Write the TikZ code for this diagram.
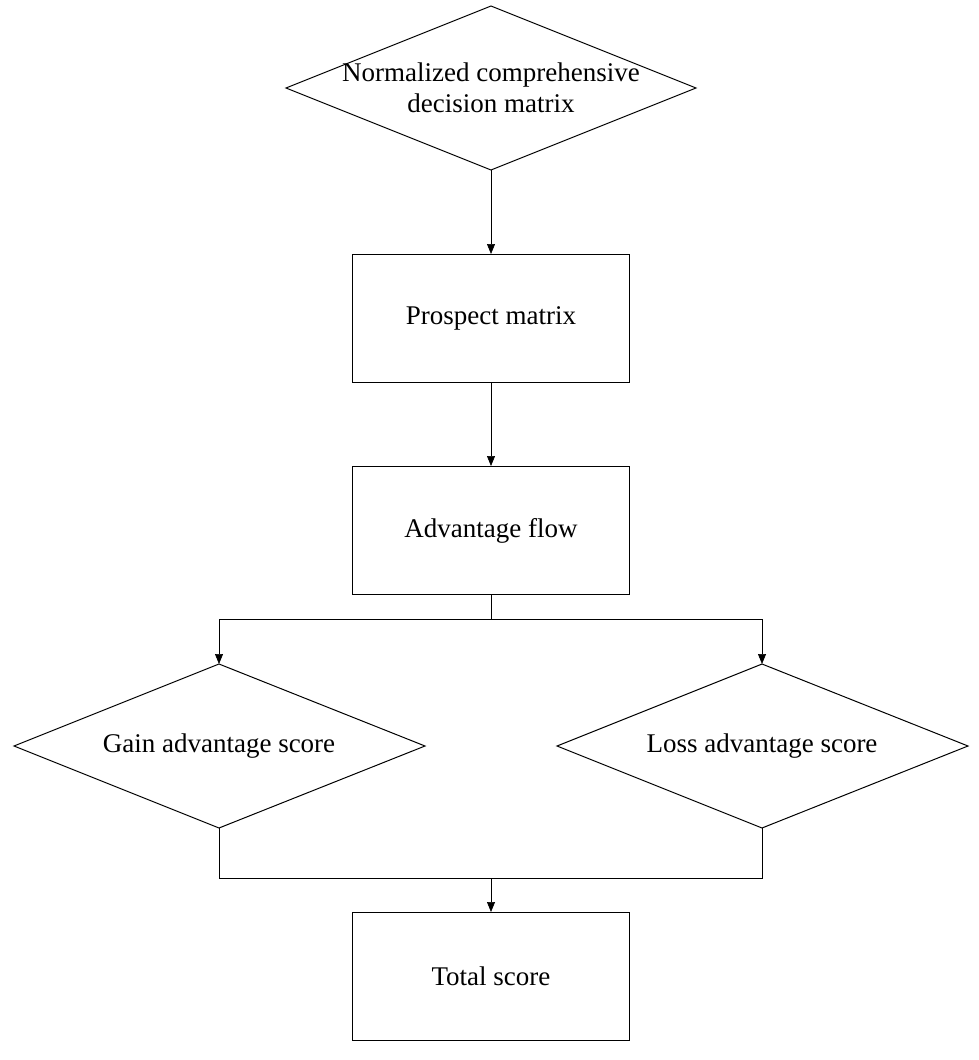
\documentclass[tikz,border=0pt]{standalone}
\usepackage{fontspec}
\setmainfont{Liberation Serif}
\usetikzlibrary{arrows.meta}
\begin{document}
\begin{tikzpicture}[x=1pt,y=-1pt,
  box/.style={draw,line width=1pt,minimum width=277pt,minimum height=128pt,anchor=north west,inner sep=0},
  lbl/.style={font=\fontsize{27}{31}\selectfont,align=center},
  dia/.style={draw,line width=1pt},
  arr/.style={line width=0.7pt,-{Triangle[length=10pt,width=8pt]}},
  ln/.style={line width=0.7pt}]
\useasboundingbox (0,0) rectangle (979,1060);
% top diamond
\coordinate (dT) at (491,6); \coordinate (dB) at (491,170);
\draw[dia] (286,88) -- (dT) -- (696,88) -- (dB) -- cycle;
\node[lbl] (t1) at (491,88) {Normalized comprehensive\\decision matrix};
\node[box] (pm) at (352,254) {};
\node[lbl] at (pm.center) {Prospect matrix};
\node[box] (af) at (352,466) {};
\node[lbl] at (af.center) {Advantage flow};
% left diamond
\coordinate (lT) at (219,664); \coordinate (lB) at (219,828);
\draw[dia] (14,746) -- (lT) -- (425,746) -- (lB) -- cycle;
\node[lbl] (g) at (219,746) {Gain advantage score};
\coordinate (rT) at (762,664); \coordinate (rB) at (762,828);
\draw[dia] (557,746) -- (rT) -- (968,746) -- (rB) -- cycle;
\node[lbl] (l) at (762,746) {Loss advantage score};
\node[box] (ts) at (352,912) {};
\node[lbl] at (ts.center) {Total score};
% connectors
\draw[arr] (dB) -- (pm.north);
\draw[arr] (pm.south) -- (af.north);
\coordinate (br) at (491,619);
\draw[ln] (af.south) -- (br);
\draw[arr] (br) -| (lT);
\draw[arr] (br) -| (rT);
\coordinate (mj) at (491,878);
\draw[ln] (lB) |- (mj) -| (rB);
\draw[arr] (mj) -- (ts.north);
\end{tikzpicture}
\end{document}
